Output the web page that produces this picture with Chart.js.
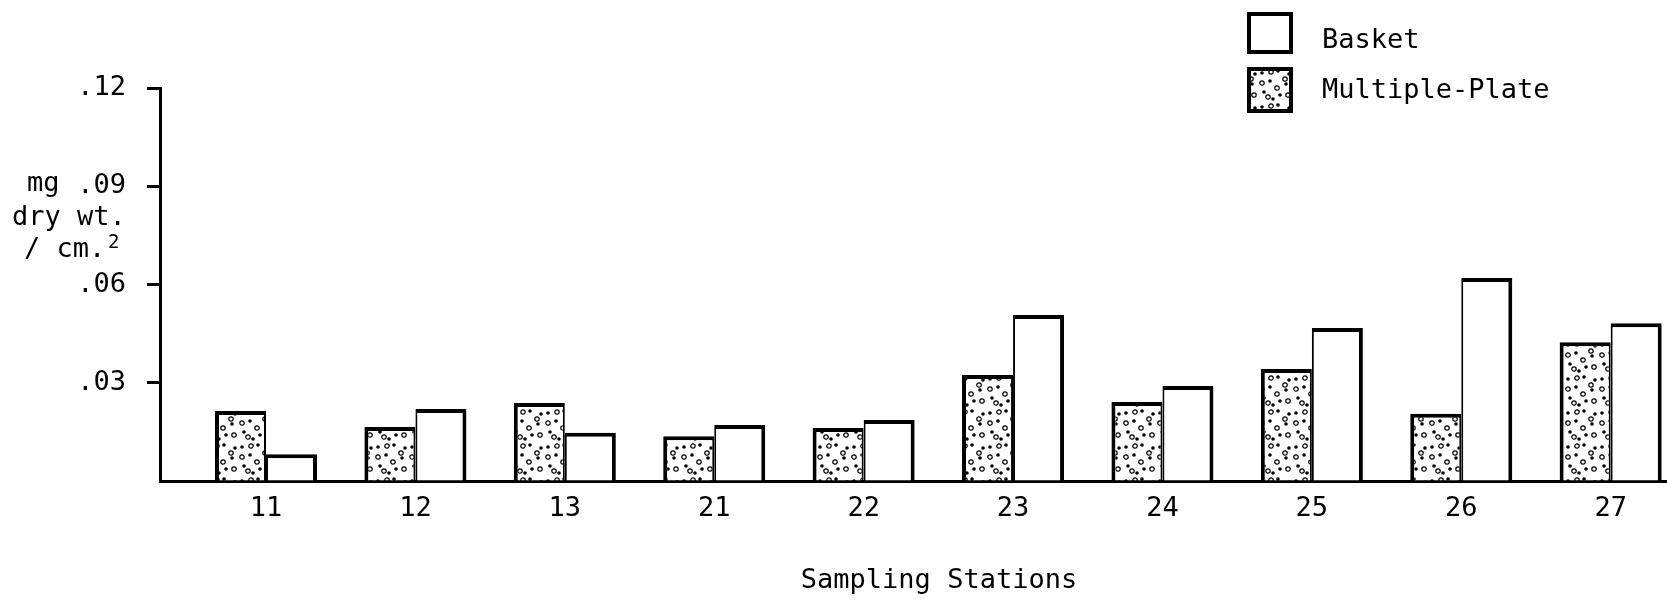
<!DOCTYPE html>
<html>
<head>
<meta charset="utf-8">
<script src="https://cdn.jsdelivr.net/npm/chart.js@4.4.0/dist/chart.umd.min.js"></script>
<style>
  body { margin: 0; background: #fff; overflow: hidden; }
  #wrap { width: 1667px; height: 600px; }
</style>
</head>
<body>
<div id="wrap"><canvas id="myChart"></canvas></div>
<script>
// data
const stations = ['11', '12', '13', '21', '22', '23', '24', '25', '26', '27'];
const multiplePlate = [0.0214, 0.0165, 0.0238, 0.0137, 0.0162, 0.0324, 0.0241, 0.0342, 0.0205, 0.0424];
const basket = [0.0082, 0.0220, 0.0147, 0.0171, 0.0186, 0.0507, 0.0290, 0.0467, 0.0620, 0.0482];
const yTicks = [0.03, 0.06, 0.09, 0.12];

const FONT = 'DejaVu Sans Mono';

// stipple pattern for the multiple-plate bars
function makeStipple() {
    const c = document.createElement('canvas');
    c.width = 34; c.height = 34;
    const g = c.getContext('2d');
    g.fillStyle = '#fff';
    g.fillRect(0, 0, 34, 34);
    g.fillStyle = '#000';
    g.strokeStyle = '#000';
    g.lineWidth = 1.2;
    const dots = [[4, 5], [20, 3], [12, 13], [28, 16], [6, 24], [22, 27], [15, 31], [31, 6]];
    dots.forEach(function (d) {
        g.beginPath(); g.arc(d[0], d[1], 1.8, 0, Math.PI * 2); g.fill();
    });
    const rings = [[13, 4], [27, 11], [4, 15], [19, 20], [10, 29], [30, 27]];
    rings.forEach(function (d) {
        g.beginPath(); g.arc(d[0], d[1], 2.2, 0, Math.PI * 2); g.stroke();
    });
    return g.createPattern(c, 'repeat');
}

const ctx = document.getElementById('myChart').getContext('2d');
const stipple = makeStipple();

const axisText = {
    id: 'axisText',
    afterDraw(chart) {
        const c = chart.ctx;
        c.save();
        c.fillStyle = '#000';
        c.textBaseline = 'middle';
        c.textAlign = 'left';
        c.font = '27px "' + FONT + '"';
        c.fillText('mg', 27, 184);
        c.fillText('dry wt.', 12, 218);
        c.fillText('/ cm.', 24, 250);
        c.font = '19px "' + FONT + '"';
        c.fillText('2', 108, 243);

        // x title
        c.font = '27px "' + FONT + '"';
        c.textAlign = 'center';
        c.fillText('Sampling Stations', 939, 581);

        // legend
        c.textAlign = 'left';
        c.lineWidth = 4;
        c.strokeStyle = '#000';
        c.fillStyle = '#fff';
        c.fillRect(1249, 14, 42, 38);
        c.strokeRect(1249, 14, 42, 38);
        c.fillStyle = stipple;
        c.fillRect(1249, 69, 42, 42);
        c.strokeRect(1249, 69, 42, 42);
        c.fillStyle = '#000';
        c.fillText('Basket', 1322, 41);
        c.fillText('Multiple-Plate', 1322, 91);
        c.restore();
    }
};

const myChart = new Chart(ctx, {
    type: 'bar',
    data: {
        datasets: [{
            label: 'Multiple-Plate',
            data: multiplePlate.map(function (v, i) { return { x: i, y: v }; }),
            backgroundColor: stipple,
            borderColor: '#000',
            borderWidth: { top: 4, left: 4, right: 2, bottom: 0 },
            borderSkipped: 'start'
        }, {
            label: 'Basket',
            data: basket.map(function (v, i) { return { x: i, y: v }; }),
            backgroundColor: '#fff',
            borderColor: '#000',
            borderWidth: { top: 4, left: 2, right: 4, bottom: 0 },
            borderSkipped: 'start'
        }]
    },
    options: {
        responsive: true,
        maintainAspectRatio: false,
        animation: false,
        layout: { padding: { top: 88, left: 0, right: 0, bottom: 0 } },
        datasets: {
            bar: { categoryPercentage: 0.683, barPercentage: 1.0 }
        },
        plugins: {
            legend: { display: false },
            tooltip: { enabled: false }
        },
        scales: {
            x: {
                type: 'linear',
                offset: false,
                min: -0.7095,
                max: 9.377,
                z: 1,
                afterFit(scale) { scale.height = 119; },
                afterBuildTicks(scale) {
                    scale.ticks = stations.map(function (s, i) { return { value: i }; });
                },
                grid: { display: false, drawTicks: false, offset: false },
                border: { display: true, color: '#000', width: 3 },
                ticks: {
                    padding: 12,
                    color: '#000',
                    font: { family: FONT, size: 27 },
                    maxRotation: 0,
                    autoSkip: false,
                    callback: function (v) { return stations[v]; }
                }
            },
            y: {
                min: 0,
                max: 0.12,
                afterFit(scale) { scale.width = 160; },
                afterBuildTicks(scale) {
                    scale.ticks = [{ value: 0 }].concat(yTicks.map(function (v) { return { value: v }; }));
                },
                grid: {
                    drawOnChartArea: false,
                    drawTicks: true,
                    tickLength: 13,
                    tickWidth: 3,
                    color: function (c) { return c.tick && c.tick.value === 0 ? 'rgba(0,0,0,0)' : '#000'; }
                },
                border: { display: true, color: '#000', width: 3 },
                ticks: {
                    padding: 21,
                    color: '#000',
                    font: { family: FONT, size: 27 },
                    callback: function (v) { return v === 0 ? '' : v.toFixed(2).replace(/^0/, ''); }
                }
            }
        }
    },
    plugins: [axisText]
});
</script>
</body>
</html>
